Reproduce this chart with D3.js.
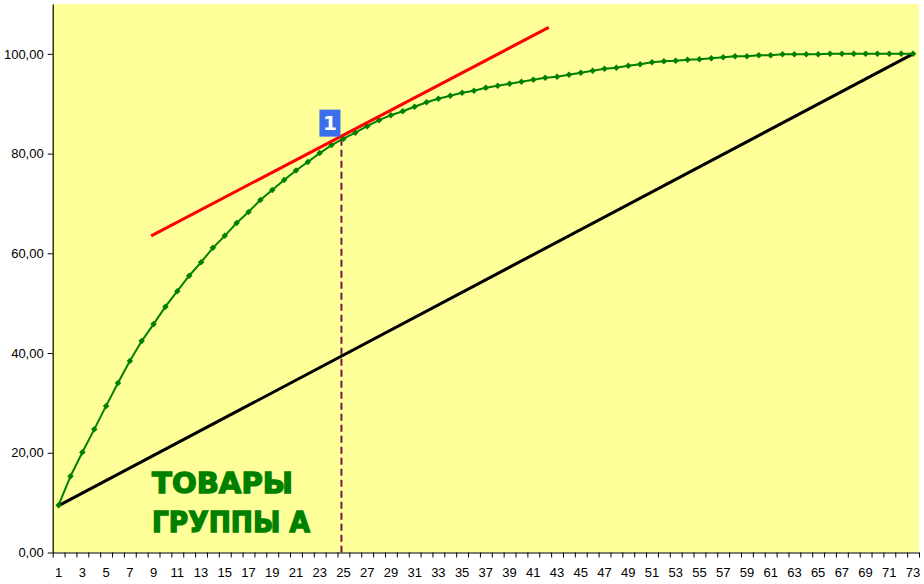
<!DOCTYPE html>
<html>
<head>
<meta charset="utf-8">
<script src="https://cdn.jsdelivr.net/npm/d3@7"></script>
<style>
    body { margin: 0; background: #ffffff; }
    svg text { font-family: "Liberation Sans", Arial, sans-serif; }
</style>
</head>
<body>
<svg id="viz_pareto"></svg>
<script>
// cumulative share, %, items 1..73
var cumulative = [
    9.5, 15.3, 20.1, 24.7, 29.4, 34.0, 38.4, 42.4, 45.8, 49.3,
    52.4, 55.5, 58.2, 61.1, 63.5, 66.1, 68.3, 70.7, 72.7, 74.7,
    76.6, 78.3, 80.1, 81.7, 83.0, 84.2, 85.5, 86.7, 87.7, 88.5,
    89.4, 90.3, 91.0, 91.6, 92.2, 92.6, 93.2, 93.6, 94.0, 94.4,
    94.8, 95.2, 95.4, 95.8, 96.2, 96.6, 97.0, 97.2, 97.6, 97.9,
    98.3, 98.5, 98.6, 98.8, 98.9, 99.1, 99.3, 99.5, 99.5, 99.7,
    99.7, 99.9, 99.9, 99.9, 99.9, 100.0, 100.0, 100.0, 100.0, 100.0,
    100.0, 100.0, 100.0
];
var items = d3.range(1, 74);
var diagonal = [{ "x": 1, "y": 9.4 }, { "x": 73, "y": 100 }];
var tangent = [{ "x": 8.8, "y": 63.5 }, { "x": 42.3, "y": 105.3 }];
var cutoff = 25;
var y_ticks = [0, 20, 40, 60, 80, 100];
var label_lines = ["ТОВАРЫ", "ГРУППЫ А"];

var width = 924,
    height = 584,
    plot = { "left": 52.7, "right": 919, "top": 4, "bottom": 552.5 },
    green = "#008000",
    yellow = "#ffff99",
    title_widths = [141, 158],
    comma = function(v) { return d3.format(".2f")(v).replace(".", ","); };

var svg = d3.select("svg#viz_pareto")
    .attr("width", width)
    .attr("height", height);

var x = d3.scaleLinear()
    .domain([0.5, items.length + 0.5])
    .range([plot.left, plot.right]);

var y = d3.scaleLinear()
    .domain([0, 110])
    .range([plot.bottom, plot.top]);

svg.append("rect")
    .attr("x", plot.left)
    .attr("y", plot.top)
    .attr("width", plot.right - plot.left)
    .attr("height", plot.bottom - plot.top)
    .attr("fill", yellow);

// axes
var y_axis = svg.append("g")
    .attr("transform", "translate(" + [plot.left, 0] + ")")
    .call(d3.axisLeft(y).tickValues(y_ticks).tickFormat(comma).tickSize(5).tickSizeOuter(0));

var x_axis = svg.append("g")
    .attr("transform", "translate(" + [0, plot.bottom] + ")")
    .call(d3.axisBottom(x).tickValues(d3.range(0.5, items.length + 1, 1)).tickFormat("").tickSize(5).tickSizeOuter(0));

svg.append("g")
    .selectAll("text.xlabel")
    .data(items.filter(function(d) { return d % 2 === 1; }))
    .enter()
    .append("text")
        .attr("class", "xlabel")
        .attr("x", function(d) { return x(d); })
        .attr("y", plot.bottom + 24)
        .attr("text-anchor", "middle")
        .style("font-size", "13px")
        .text(function(d) { return d; });

[y_axis, x_axis].forEach(function(g) {
    g.select(".domain").attr("stroke", "#000").attr("stroke-width", 1.2);
    g.selectAll(".tick line").attr("stroke", "#000");
    g.selectAll(".tick text").style("font-size", "13px").attr("fill", "#000")
        .style("font-family", "'Liberation Sans', Arial, sans-serif");
});
y_axis.selectAll(".tick text").attr("x", -9);

var line = d3.line()
    .x(function(d) { return x(d.x); })
    .y(function(d) { return y(d.y); });

var points = cumulative.map(function(v, i) { return { "x": items[i], "y": v }; });

// equal distribution line
svg.append("path")
    .attr("d", line(diagonal))
    .attr("fill", "none")
    .attr("stroke", "#000")
    .attr("stroke-width", 3);

// cutoff marker
var cut = points[cutoff - 1];
svg.append("line")
    .attr("x1", x(cut.x) - 2)
    .attr("x2", x(cut.x) - 2)
    .attr("y1", y(cut.y))
    .attr("y2", plot.bottom)
    .attr("stroke", "#6e1a4a")
    .attr("stroke-width", 2)
    .attr("stroke-dasharray", "7,4");

svg.append("path")
    .attr("d", line(points))
    .attr("fill", "none")
    .attr("stroke", green)
    .attr("stroke-width", 2);

svg.selectAll("rect.marker")
    .data(points)
    .enter()
    .append("rect")
        .attr("class", "marker")
        .attr("x", -2.3)
        .attr("y", -2.3)
        .attr("width", 4.6)
        .attr("height", 4.6)
        .attr("transform", function(d) { return "translate(" + [x(d.x), y(d.y)] + ") rotate(45)"; })
        .attr("fill", green);

// tangent
svg.append("path")
    .attr("d", line(tangent))
    .attr("fill", "none")
    .attr("stroke", "#ff0000")
    .attr("stroke-width", 3);

// point label
var label_g = svg.append("g")
    .attr("transform", "translate(" + [x(cut.x) - 2, y(cut.y)] + ")");

label_g.append("rect")
    .attr("x", -22)
    .attr("y", -29)
    .attr("width", 21)
    .attr("height", 27)
    .attr("fill", "#3a6eea");

label_g.append("text")
    .attr("x", -11.5)
    .attr("y", -8.5)
    .attr("text-anchor", "middle")
    .attr("fill", "#fff")
    .style("font-size", "20px")
    .style("font-weight", "bold")
    .style("font-family", "'DejaVu Sans', sans-serif")
    .text("1");

// group title
svg.append("g")
    .selectAll("text.group")
    .data(label_lines)
    .enter()
    .append("text")
        .attr("class", "group")
        .attr("x", 152)
        .attr("y", function(d, i) { return 493 + i * 38.7; })
        .attr("textLength", function(d, i) { return title_widths[i]; })
        .attr("lengthAdjust", "spacingAndGlyphs")
        .attr("fill", green)
        .attr("stroke", green)
        .attr("stroke-width", 1.4)
        .style("font-size", "29px")
        .style("font-weight", "bold")
        .style("font-family", "'DejaVu Sans', sans-serif")
        .text(function(d) { return d; });
</script>
</body>
</html>
